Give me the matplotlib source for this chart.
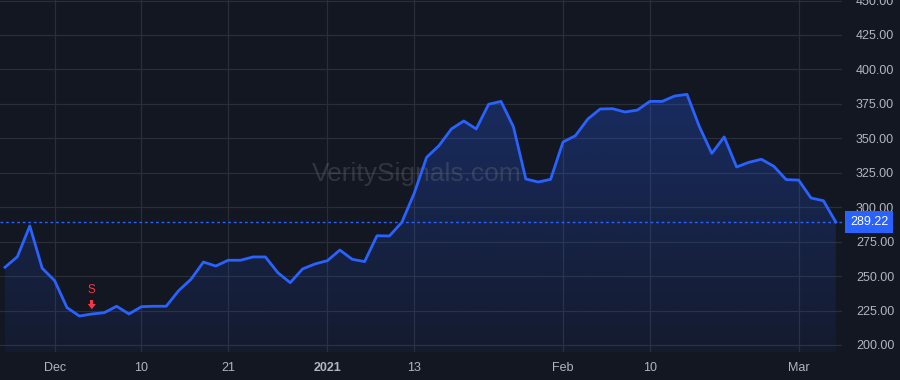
import numpy as np
import matplotlib.pyplot as plt
import matplotlib.transforms as mtransforms

plt.rcParams['font.family'] = ['Liberation Sans', 'DejaVu Sans']

# daily closes, Nov 24 2020 .. Mar 4 2021 (trading days)
closes = [256.4, 264.1, 286.4, 255.7, 246.7, 227.1, 221.0, 222.5, 223.4, 228.1,
          222.5, 227.8, 228.1, 228.1, 239.4, 247.7, 260.2, 257.3, 261.5, 261.5,
          263.9, 263.9, 252.5, 245.2, 255.2, 258.8, 261.2, 268.9, 262.2, 260.5,
          279.3, 279.1, 289.0, 310.1, 336.2, 344.7, 356.8, 362.6, 356.8, 374.7,
          376.8, 358.4, 320.5, 318.3, 320.2, 347.3, 351.9, 364.0, 371.3, 371.5,
          369.1, 370.5, 376.8, 376.8, 380.7, 381.9, 358.4, 339.1, 351.0, 329.2,
          332.6, 334.8, 329.7, 320.0, 319.7, 306.7, 304.7, 289.22]
last_price = 289.22

tick_idx = [4, 11, 18, 26, 33, 45, 52, 64]
tick_labels = ['Dec', '10', '21', '2021', '13', 'Feb', '10', 'Mar']
price_ticks = [200, 225, 250, 275, 300, 325, 350, 375, 400, 425, 450]

signal_idx = [7]
signal_text = ['S']

bg = '#131722'
grid_c = '#2a2e39'
line_c = '#2962ff'
text_c = '#b2b5be'
sell_c = '#f23645'

x = np.arange(len(closes))
y = np.array(closes)

fig = plt.figure(figsize=(9, 3.8), dpi=100, facecolor=bg)
ax = fig.add_axes([0, 1 - 352 / 380, 842 / 900, 352 / 380])
ax.set_facecolor(bg)

ax.set_xlim(-5 / 12.4, 837 / 12.4)
ax.set_ylim(194.9, 450.4)

# gradient fill under the line
ymin, ymax = ax.get_ylim()
poly = ax.fill_between(x, y, ymin, color='none', lw=0)
grad = np.zeros((100, 1, 4))
grad[:, 0, :3] = np.array([41, 98, 255]) / 255
grad[:, 0, 3] = np.linspace(0.28, 0.06, 100)
img = ax.imshow(grad, aspect='auto', extent=[x[0], x[-1], ymin, y.max()],
                origin='upper', zorder=1)
img.set_clip_path(poly.get_paths()[0], transform=ax.transData)

ax.plot(x, y, color=line_c, lw=2, zorder=3, solid_joinstyle='round')
ax.axhline(last_price, color=line_c, lw=1, ls=(0, (2, 2)), zorder=2)

# sell signal: small down arrow (shaft + head) and label above the bar
for i, s in zip(signal_idx, signal_text):
    ax.fill([i - 0.12, i + 0.12, i + 0.12, i - 0.12],
            [y[i] + 10.2, y[i] + 10.2, y[i] + 7.0, y[i] + 7.0],
            color=sell_c, lw=0, zorder=4)
    ax.fill([i - 0.33, i + 0.33, i], [y[i] + 7.3, y[i] + 7.3, y[i] + 3.4],
            color=sell_c, lw=0, zorder=4)
    ax.text(i, y[i] + 17.7, s, color=sell_c, fontsize=8.5, ha='center', va='center', zorder=4)

# watermark
ax.text(417 / 842, 1 - 181.5 / 352, 'VeritySignals.com', transform=ax.transAxes,
        fontsize=19, color='#787b86', alpha=0.3, ha='center', va='baseline', zorder=2)

ax.set_xticks(tick_idx)
ax.set_xticklabels(tick_labels)
for lbl in ax.get_xticklabels():
    if lbl.get_text() == '2021':
        lbl.set_fontweight('bold')
ax.set_yticks(price_ticks)
ax.set_yticklabels([f'{p:.2f}' for p in price_ticks])
ax.yaxis.tick_right()
ax.tick_params(axis='both', length=0, colors=text_c, labelsize=9)
ax.tick_params(axis='y', pad=10)
ax.tick_params(axis='x', pad=7)
ax.grid(True, color=grid_c, lw=0.9, zorder=0)
ax.set_axisbelow(True)
for sp in ax.spines.values():
    sp.set_visible(False)

# last price tag
trans = mtransforms.blended_transform_factory(ax.transAxes, ax.transData)
ax.text(1.0 + 8 / 842, last_price, f'{last_price:.2f}', transform=trans,
        color='white', fontsize=9, ha='left', va='center', clip_on=False, zorder=5,
        bbox=dict(boxstyle='square,pad=0.4', fc=line_c, ec='none'))

fig.savefig('out.png', dpi=100, facecolor=bg)
